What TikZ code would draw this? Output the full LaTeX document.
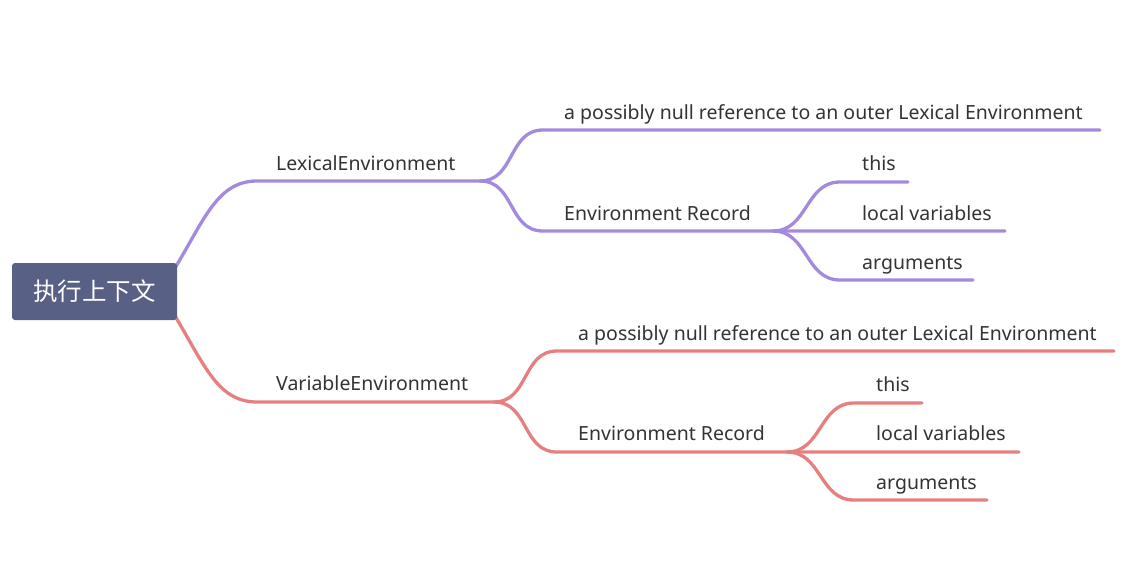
\documentclass[tikz,border=0pt]{standalone}
\usepackage{fontspec}
\setmainfont{Noto Sans}
\newfontfamily\cjk{Noto Sans CJK SC}
\definecolor{rootfill}{HTML}{586086}
\definecolor{lexc}{HTML}{A38ADE}
\definecolor{varc}{HTML}{E68080}
\definecolor{txt}{HTML}{333333}
\begin{document}
\begin{tikzpicture}[x=1pt,y=-1pt,
  lbl/.style={anchor=base west,inner sep=0pt,text=txt,font=\fontsize{19.5}{22}\selectfont},
  branch/.style={line width=3.3pt,line cap=round},
  rootbox/.style={fill=rootfill,rounded corners=3pt,minimum width=165pt,minimum height=57pt,inner sep=0pt,text=white,font=\cjk\fontsize{24.5}{28}\selectfont}
]
\useasboundingbox (0,0) rectangle (1135,581);
% ---------- coordinates ----------
\coordinate (rs1) at (175,268);
\coordinate (rs2) at (175,316);
% lexical
\coordinate (l0) at (257,181);
\coordinate (lj) at (480,181);
\coordinate (la0) at (543,130);
\coordinate (la1) at (1100,130);
\coordinate (lb0) at (543,231);
\coordinate (lj2) at (773,231);
\coordinate (lc0) at (840,182);
\coordinate (lc1) at (908,182);
\coordinate (ld1) at (1005,231);
\coordinate (le0) at (840,280);
\coordinate (le1) at (973,280);
% variable
\coordinate (v0) at (257,402);
\coordinate (vj) at (494,402);
\coordinate (va0) at (557,351);
\coordinate (va1) at (1114,351);
\coordinate (vb0) at (557,452);
\coordinate (vj2) at (787,452);
\coordinate (vc0) at (854,403);
\coordinate (vc1) at (922,403);
\coordinate (vd1) at (1019,452);
\coordinate (ve0) at (854,500);
\coordinate (ve1) at (987,500);
% ---------- connectors ----------
\begin{scope}[draw=lexc]
\draw[branch] (rs1) .. controls (205,218) and (218,181) .. (l0) -- (lj);
\draw[branch] (lj) .. controls (515,181) and (508,130) .. (la0) -- (la1);
\draw[branch] (lj) .. controls (515,181) and (508,231) .. (lb0) -- (lj2) -- (ld1);
\draw[branch] (lj2) .. controls (808,231) and (805,182) .. (lc0) -- (lc1);
\draw[branch] (lj2) .. controls (808,231) and (805,280) .. (le0) -- (le1);
\end{scope}
\begin{scope}[draw=varc]
\draw[branch] (rs2) .. controls (205,366) and (218,402) .. (v0) -- (vj);
\draw[branch] (vj) .. controls (529,402) and (522,351) .. (va0) -- (va1);
\draw[branch] (vj) .. controls (529,402) and (522,452) .. (vb0) -- (vj2) -- (vd1);
\draw[branch] (vj2) .. controls (822,452) and (819,403) .. (vc0) -- (vc1);
\draw[branch] (vj2) .. controls (822,452) and (819,500) .. (ve0) -- (ve1);
\end{scope}
% ---------- nodes ----------
\node[rootbox] (root) at (94.5,291.5) {执行上下文};
\node[lbl] (lex) at (276,170) {LexicalEnvironment};
\node[lbl] (lexa) at (564,119) {a possibly null reference to an outer Lexical Environment};
\node[lbl] (lexb) at (564,220) {Environment Record};
\node[lbl] (lexc1) at (862,170) {this};
\node[lbl] (lexd) at (862,220) {local variables};
\node[lbl] (lexe) at (862,269) {arguments};
\node[lbl] (var) at (276,390) {VariableEnvironment};
\node[lbl] (vara) at (578,340) {a possibly null reference to an outer Lexical Environment};
\node[lbl] (varb) at (578,440) {Environment Record};
\node[lbl] (varc1) at (876,391) {this};
\node[lbl] (vard) at (876,440) {local variables};
\node[lbl] (vare) at (876,489) {arguments};
\end{tikzpicture}
\end{document}
